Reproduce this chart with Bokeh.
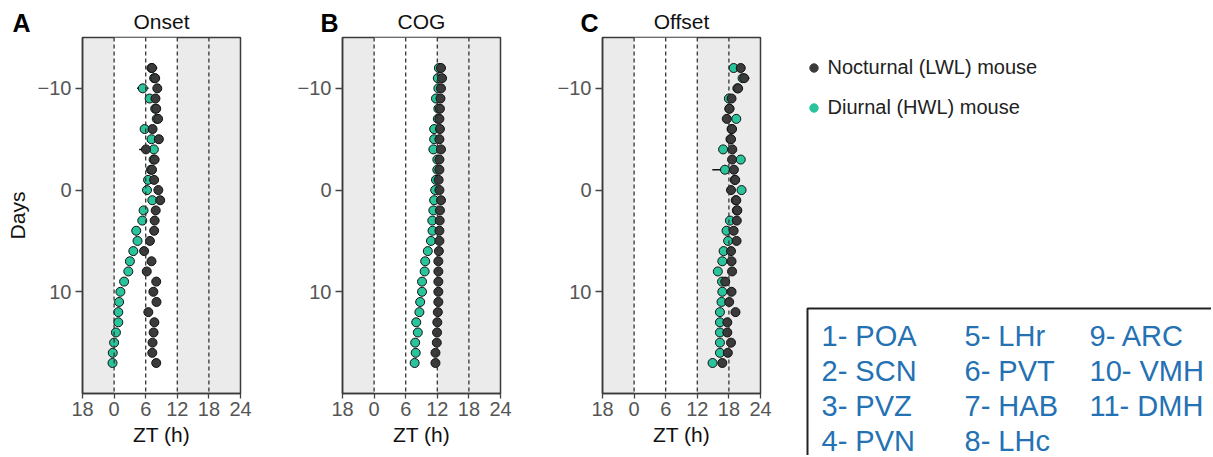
import numpy as np
from bokeh.plotting import figure
from bokeh.models import (Range1d, FixedTicker, Span, BoxAnnotation,
                          Legend, LegendItem)
from bokeh.layouts import row, column
from bokeh.embed import file_html
from bokeh.resources import INLINE
from bokeh.core.properties import value

# ---------------- data ----------------
days = list(range(-12, 18))

onset_noct = [7.2, 7.8, 8.2, 7.85, 8.0, 8.35, 7.3, 8.5, 6.05, 7.7,
              7.2, 7.6, 8.4, 8.75, 7.9, 7.7, 7.6, 6.8, 5.7, 7.1,
              6.2, 8.0, 7.45, 8.05, 6.5, 7.65, 7.5, 7.3, 7.25, 8.0]
onset_diur = [7.1, 7.6, 5.45, 6.75, 7.8, 8.1, 5.8, 7.1, 7.55, 7.5,
              7.0, 6.45, 6.25, 7.25, 5.6, 5.35, 4.2, 4.45, 3.65, 3.0,
              2.7, 1.9, 1.2, 0.95, 0.8, 0.8, 0.35, 0.0, -0.25, -0.3]
onset_noct_err = [1.0, 0, 0, 0, 0, 0, 0, 0, 1.3, 0,
                  0, 0, 0, 0, 0, 0, 0, 0, 0, 0,
                  0, 0, 0, 0, 0, 0, 0, 0, 0, 0]
onset_diur_err = [0, 0, 1.1, 0, 0, 0, 0, 0, 0, 0,
                  0, 0, 0, 0, 0, 0, 0, 0, 0, 0,
                  0, 0, 0, 0, 0, 0, 0, 0, 0, 0]

cog_noct = [12.7, 12.9, 12.7, 12.6, 12.5, 12.4, 12.5, 12.4, 12.7, 12.4,
            12.4, 12.25, 12.4, 12.7, 12.5, 12.45, 12.4, 12.4, 12.3, 12.2,
            12.2, 12.2, 12.2, 12.2, 12.1, 12.0, 11.95, 11.9, 11.65, 11.65]
cog_diur = [12.3, 12.1, 12.2, 11.75, 12.2, 12.1, 11.4, 11.4, 11.25, 12.0,
            12.0, 11.75, 11.6, 11.4, 11.25, 11.05, 11.1, 10.8, 10.2, 9.7,
            9.6, 9.1, 9.1, 8.75, 8.6, 8.0, 8.3, 7.8, 7.9, 7.7]
cog_noct_err = [0] * 30
cog_diur_err = [0] * 30

offset_noct = [20.25, 20.9, 19.75, 18.5, 18.1, 17.6, 18.6, 18.4, 18.65, 18.6,
               18.95, 19.2, 18.4, 19.4, 19.6, 19.5, 18.9, 19.45, 18.4, 18.5,
               18.6, 17.3, 18.5, 18.05, 19.25, 17.7, 17.7, 18.4, 17.8, 16.75]
offset_diur = [18.9, 20.6, 19.6, 18.0, 18.1, 19.4, 18.5, 18.3, 16.9, 20.25,
               17.25, 19.1, 20.4, 19.3, 19.5, 18.2, 17.55, 17.85, 17.0, 16.75,
               15.9, 16.7, 16.75, 16.6, 16.3, 16.3, 16.3, 16.3, 16.3, 14.9]
offset_noct_err = [0.5, 1.0, 0.9, 0.5, 0.7, 0.5, 0.6, 0.7, 0.4, 0.3,
                   0.4, 0.5, 0.3, 0.5, 0.4, 0, 0, 0, 0, 0,
                   0, 0, 0, 0, 0, 0, 0, 0, 0, 0]
offset_diur_err = [0.4, 0, 0, 0, 0, 0.6, 0, 0, 0, 0,
                   2.4, 0, 0, 0, 0, 0, 0, 0, 0, 0,
                   0, 0, 0, 0, 0, 0, 0, 0, 0, 0]

panel_titles = ["Onset", "COG", "Offset"]
panel_letters = ["A", "B", "C"]
series_names = ["Nocturnal (LWL) mouse", "Diurnal (HWL) mouse"]
x_ticks = [-6, 0, 6, 12, 18, 24]
x_tick_labels = ["18", "0", "6", "12", "18", "24"]
y_ticks = [-10, 0, 10]
y_tick_labels = ["\u221210", "0", "10"]
dash_lines = [0, 6, 12, 18]
regions = ["POA", "SCN", "PVZ", "PVN", "LHr", "PVT", "HAB", "LHc",
           "ARC", "VMH", "DMH"]

# ---------------- style / geometry ----------------
FONT = "Liberation Sans"
BLACK = "#3b3b3b"
GREEN = "#2ac49c"
GRAY_BG = "#ebebeb"
TICK_COL = "#555555"
BLUE = "#2471b3"

H = 455          # total height
HEAD = 35        # header strip with panel letters and titles
PTOP = 2         # top border of each panel below the header
FH = 356         # frame height
FW = 158         # frame width
RB = 30          # right border of each panel
lefts = [82, 72, 72]


def make_panel(noct, diur, noct_err, diur_err, ylabel, left):
    ph = H - HEAD
    p = figure(width=left + FW + RB, height=ph,
               x_range=Range1d(-6, 24), y_range=Range1d(20, -15),
               toolbar_location=None, output_backend="svg",
               min_border_left=left, min_border_right=RB,
               min_border_top=PTOP, min_border_bottom=ph - PTOP - FH)
    p.background_fill_color = GRAY_BG
    p.border_fill_color = "white"
    p.outline_line_color = "#3a3a3a"
    p.outline_line_width = 1.5
    p.grid.visible = False

    p.add_layout(BoxAnnotation(left=0, right=12, fill_color="white",
                               fill_alpha=1.0, line_alpha=0, level="underlay"))
    for v in dash_lines:
        p.add_layout(Span(location=v, dimension="height", line_color="#333333",
                          line_width=1.3, line_dash="4 3"))

    p.xaxis.ticker = FixedTicker(ticks=x_ticks)
    p.xaxis.major_label_overrides = dict(zip(x_ticks, x_tick_labels))
    p.yaxis.ticker = FixedTicker(ticks=y_ticks)
    p.yaxis.major_label_overrides = dict(zip(y_ticks, y_tick_labels))
    for ax in (p.xaxis, p.yaxis):
        ax.major_label_text_font = FONT
        ax.major_label_text_font_size = "20px"
        ax.major_label_text_color = TICK_COL
        ax.axis_label_text_font = FONT
        ax.axis_label_text_font_size = "21px"
        ax.axis_label_text_font_style = "normal"
        ax.axis_label_text_color = "#111111"
        ax.minor_tick_line_color = None
        ax.major_tick_in = 0
        ax.major_tick_line_color = "#444444"
        ax.major_tick_line_width = 1.3
        ax.axis_line_color = "#3a3a3a"
        ax.axis_line_width = 1.5
    p.xaxis.major_tick_out = 5
    p.xaxis.major_label_standoff = 3
    p.xaxis.axis_label_standoff = 4
    p.yaxis.major_tick_out = 7
    p.yaxis.major_label_standoff = 4
    p.xaxis.axis_label = "ZT (h)"
    if ylabel:
        p.yaxis.axis_label = "Days"
        p.yaxis.axis_label_standoff = 6

    d = np.array(days, dtype=float)
    for vals, errs in ((diur, diur_err), (noct, noct_err)):
        v = np.array(vals, dtype=float)
        e = np.array(errs, dtype=float)
        m = e > 0
        if m.any():
            p.segment(x0=(v - e)[m], x1=(v + e)[m], y0=d[m], y1=d[m],
                      line_color="#111111", line_width=1.5)
    for vals, col in ((diur, GREEN), (noct, BLACK)):
        p.scatter(x=vals, y=days, size=9, fill_color=col,
                  line_color="#111111", line_width=1)
    return p


pa = make_panel(onset_noct, onset_diur, onset_noct_err, onset_diur_err,
                True, lefts[0])
pb = make_panel(cog_noct, cog_diur, cog_noct_err, cog_diur_err,
                False, lefts[1])
pc = make_panel(offset_noct, offset_diur, offset_noct_err, offset_diur_err,
                False, lefts[2])

# ---------------- header strip: panel letters and titles ----------------
panels_w = sum(l + FW + RB for l in lefts)
hd = figure(width=panels_w, height=HEAD, x_range=Range1d(0, panels_w),
            y_range=Range1d(HEAD, 0), x_axis_location=None,
            y_axis_location=None, toolbar_location=None,
            output_backend="svg", min_border=0, outline_line_color=None)
hd.grid.visible = False
starts = np.cumsum([0] + [l + FW + RB for l in lefts[:-1]])
frame_left = [s + l for s, l in zip(starts, lefts)]
title_x = [fl + FW / 2 for fl in frame_left]
letter_x = [fl - (70 if i == 0 else 22) for i, fl in enumerate(frame_left)]
hd.text(x=title_x, y=[21] * 3, text=panel_titles, text_font=value(FONT),
        text_font_size="21px", text_color="#111111", text_align="center",
        text_baseline="middle")
hd.text(x=letter_x, y=[22] * 3, text=panel_letters, text_font=value(FONT),
        text_font_size="25px", text_font_style="bold", text_color="#000000",
        text_align="left", text_baseline="middle")

# ---------------- legend + region box ----------------
DW = 421
pd_ = figure(width=DW, height=H, x_range=Range1d(0, DW), y_range=Range1d(H, 0),
             x_axis_location=None, y_axis_location=None,
             toolbar_location=None, output_backend="svg", min_border=0,
             outline_line_color=None)
pd_.grid.visible = False
pd_.background_fill_color = "white"

rb = pd_.scatter(x=[np.nan], y=[np.nan], size=9, fill_color=BLACK,
                 line_color=BLACK)
rg = pd_.scatter(x=[np.nan], y=[np.nan], size=9, fill_color=GREEN,
                 line_color=GREEN)
leg = Legend(items=[LegendItem(label=series_names[0], renderers=[rb]),
                    LegendItem(label=series_names[1], renderers=[rg])],
             location=(12.5, H - 119), padding=0, spacing=17,
             glyph_width=21, glyph_height=21, label_height=21,
             label_standoff=4, border_line_color=None,
             background_fill_alpha=0, label_text_font=FONT,
             label_text_font_size="20px", label_text_color="#222222")
pd_.add_layout(leg)

pd_.quad(left=[17], right=[700], top=[308], bottom=[700],
         fill_color=None, line_color="#222222", line_width=2)
col_x = [31, 174, 299]
row_y = [335, 370, 405, 440]
tx = [col_x[i // 4] for i in range(len(regions))]
ty = [row_y[i % 4] for i in range(len(regions))]
tt = [f"{i + 1}- {r}" for i, r in enumerate(regions)]
pd_.text(x=tx, y=ty, text=tt, text_font=value(FONT), text_font_size="29px",
         text_color=BLUE, text_baseline="middle", text_align="left")

layout = row(column(hd, row(pa, pb, pc)), column(pd_))
open("out.html", "w").write(file_html(layout, INLINE))
